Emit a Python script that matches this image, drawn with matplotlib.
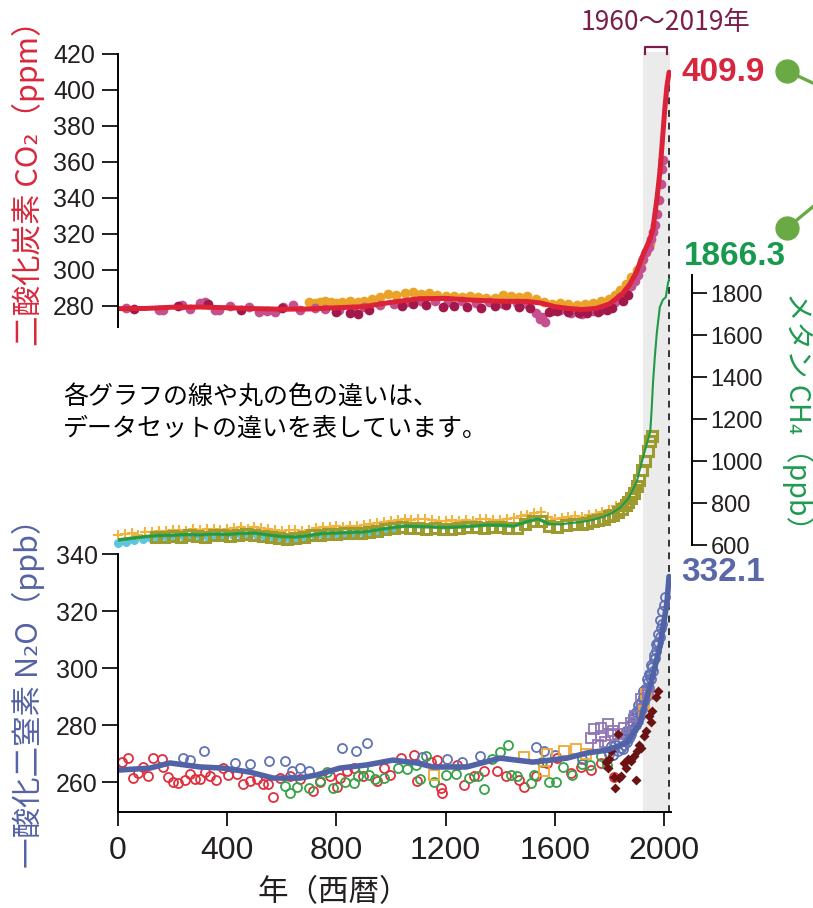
import matplotlib
matplotlib.use('Agg')
import matplotlib.pyplot as plt
from matplotlib.lines import Line2D

# 二酸化炭素 (ppm)
co2_year = [0, 100, 200, 300, 400, 500, 600, 700, 800, 900, 1000, 1100, 1200, 1300, 1400,
            1500, 1550, 1600, 1650, 1700, 1750, 1800, 1850, 1875, 1900, 1912, 1925, 1949,
            1960, 1974, 1985, 1992, 2003, 2011, 2019]
co2_ppm = [278.5, 278.6, 279.3, 279.4, 279.0, 278.5, 278.2, 278.3, 279.0, 279.6, 282.0, 284.0,
           284.2, 283.2, 282.6, 282.5, 281.6, 279.6, 278.6, 278.0, 278.6, 281.0, 287.0, 292.0,
           299.0, 304.0, 309.0, 317.0, 323.0, 339.0, 354.0, 367.0, 389.0, 402.0, 409.9]

co2_a_year = [30, 150, 165, 235, 265, 300, 318, 355, 370, 410, 480, 515, 545, 575, 605, 640, 668,
              720, 760, 810, 860, 900, 960, 1010, 1060, 1110, 1160, 1210, 1260, 1310, 1360, 1410,
              1460, 1500, 1530, 1545, 1555, 1565, 1590, 1620, 1660, 1700, 1740, 1770, 1800, 1820,
              1840, 1860, 1880, 1895, 1905, 1915, 1925, 1935, 1945, 1952, 1960, 1968, 1975, 1982,
              1988, 1994, 1998]
co2_a_ppm = [279.0, 277.5, 278.0, 280.5, 278.5, 281.5, 282.0, 278.0, 277.5, 280.0, 279.5, 276.8,
             277.0, 276.5, 279.5, 280.5, 278.0, 279.0, 278.5, 277.5, 278.5, 279.5, 280.5, 281.0,
             282.0, 282.5, 283.0, 282.0, 282.5, 281.5, 282.0, 281.0, 281.5, 281.0, 276.0, 272.5,
             274.0, 271.0, 277.0, 277.5, 276.0, 275.5, 277.0, 278.0, 280.0, 282.0, 285.0, 287.5,
             291.0, 294.0, 297.0, 301.0, 306.0, 310.0, 313.0, 317.0, 321.0, 325.0, 331.0, 339.0,
             348.0, 356.0, 361.0]

co2_b_year = [60, 220, 330, 450, 600, 800, 850, 880, 920, 1040, 1080, 1130, 1190, 1230, 1280,
              1330, 1380, 1420, 1470, 1510, 1580, 1610, 1650, 1690, 1720, 1760, 1790, 1810, 1850,
              1870]
co2_b_ppm = [278.5, 280.0, 281.0, 278.0, 279.0, 276.5, 276.0, 275.5, 277.5, 280.0, 281.0, 280.5,
             279.5, 280.0, 279.5, 279.0, 280.0, 280.5, 279.5, 279.0, 276.5, 277.0, 276.5, 276.0,
             276.0, 276.5, 278.0, 279.0, 283.0, 286.0]

co2_c_year = [700, 720, 740, 760, 780, 800, 820, 850, 880, 900, 930, 960, 990, 1020, 1050, 1080,
              1110, 1140, 1170, 1200, 1230, 1260, 1290, 1320, 1350, 1380, 1410, 1440, 1470, 1500,
              1530, 1560, 1590, 1620, 1650, 1680, 1710, 1740, 1770, 1800, 1820, 1840, 1860, 1880,
              1900, 1920, 1935, 1950]
co2_c_ppm = [282.0, 281.5, 282.0, 282.5, 282.0, 281.5, 282.0, 282.5, 282.0, 283.0, 284.0, 285.0,
             286.5, 286.0, 287.0, 287.5, 286.5, 287.0, 286.0, 285.5, 285.5, 285.0, 285.5, 285.0,
             284.5, 284.5, 286.0, 285.5, 285.0, 285.5, 284.0, 282.0, 281.0, 281.5, 281.0, 280.5,
             281.0, 281.5, 282.5, 284.0, 286.0, 289.0, 292.0, 296.0, 300.0, 305.0, 310.0, 315.0]

# メタン (ppb)
ch4_year = [0, 50, 100, 150, 200, 250, 300, 350, 400, 450, 500, 550, 600, 650, 700, 750, 800,
            850, 900, 950, 1000, 1050, 1100, 1150, 1200, 1250, 1300, 1350, 1400, 1450, 1500,
            1540, 1580, 1620, 1660, 1700, 1740, 1780, 1810, 1840, 1870, 1900, 1920, 1935, 1950,
            1955, 1960, 1967, 1974, 1985, 1996, 2007, 2015, 2019]
ch4_ppb = [624, 632, 640, 645, 646, 650, 648, 652, 650, 655, 657, 648, 640, 638, 645, 655, 657,
           660, 662, 672, 682, 690, 688, 686, 683, 686, 690, 695, 694, 690, 712, 724, 700, 698,
           705, 710, 720, 735, 752, 778, 822, 900, 1000, 1070, 1140, 1243, 1371, 1500, 1610,
           1733, 1767, 1781, 1848, 1866.3]

ch4_a_year = [0, 25, 50, 75, 100, 125, 150, 175, 200, 225, 250, 275, 300, 325, 350, 375, 400,
              425, 450, 475, 500, 525, 550, 575, 600, 625, 650, 675, 700, 725, 750, 775, 800, 825,
              850, 875, 900, 925, 950, 975, 1000, 1025, 1050, 1075, 1100, 1125, 1150, 1175, 1200,
              1225, 1250, 1275, 1300, 1325, 1350, 1375, 1400, 1425, 1450, 1475, 1500, 1525, 1550,
              1575, 1600, 1625, 1650, 1675, 1700, 1725, 1750, 1775, 1800, 1825, 1850, 1875]
ch4_a_ppb = [648, 652, 655, 650, 660, 663, 668, 665, 670, 672, 668, 676, 671, 674, 678, 672, 676,
             680, 684, 678, 686, 682, 676, 670, 666, 670, 673, 668, 672, 679, 684, 686, 690, 688,
             692, 690, 695, 700, 704, 710, 716, 720, 722, 718, 724, 726, 720, 716, 712, 718, 714,
             720, 716, 722, 726, 720, 718, 722, 730, 738, 745, 752, 758, 734, 726, 730, 734, 738,
             733, 742, 750, 758, 768, 785, 800, 830]

ch4_b_year = [140, 170, 200, 230, 260, 290, 320, 350, 380, 410, 440, 470, 500, 530, 560, 590, 620,
              650, 680, 710, 740, 770, 800, 830, 860, 890, 920, 950, 980, 1010, 1040, 1070, 1100,
              1130, 1160, 1190, 1220, 1250, 1280, 1310, 1340, 1370, 1400, 1430, 1460, 1490, 1520,
              1550, 1580, 1610, 1640, 1670, 1700, 1720, 1740, 1760, 1780, 1800, 1815, 1830, 1845,
              1860, 1870, 1880, 1890, 1900, 1910, 1920, 1930, 1940, 1950, 1955]
ch4_b_ppb = [636, 640, 642, 640, 646, 643, 640, 646, 648, 644, 650, 652, 648, 644, 640, 634, 630,
             632, 640, 648, 650, 652, 654, 656, 655, 658, 662, 666, 676, 680, 684, 680, 682, 678,
             680, 676, 678, 680, 684, 686, 682, 684, 686, 682, 680, 698, 712, 716, 690, 686, 694,
             700, 702, 706, 712, 718, 726, 738, 745, 758, 772, 790, 805, 825, 850, 880, 910, 955,
             1000, 1050, 1095, 1120]

ch4_c_year = [0, 30, 60, 90, 120, 150, 180, 210, 240, 270, 300, 330, 360, 390, 420, 450, 480, 510,
              540, 570, 600, 630, 660, 690, 720, 750, 780, 810, 840, 870, 900, 930, 960, 990, 1020]
ch4_c_ppb = [610, 615, 622, 628, 632, 634, 636, 638, 640, 642, 640, 638, 642, 644, 646, 648, 650,
             646, 640, 632, 628, 626, 630, 636, 644, 646, 648, 650, 650, 652, 654, 656, 662, 668,
             674]

# 一酸化二窒素 (ppb)
n2o_year = [0, 117, 190, 300, 385, 483, 568, 667, 728, 813, 911, 1007, 1095, 1154, 1205, 1277,
            1400, 1520, 1645, 1718, 1791, 1864, 1912, 1949, 1985, 2011, 2019]
n2o_ppb = [264.2, 264.9, 266.7, 265.3, 264.9, 263.5, 261.4, 261.4, 262.5, 264.9, 266.0, 267.7,
           266.7, 265.3, 265.3, 265.3, 268.4, 267.0, 268.4, 270.2, 271.2, 273.7, 280.7, 293.3,
           307.4, 322.8, 332.1]

n2o_a_year = [14, 37, 55, 73, 92, 110, 128, 161, 165, 184, 202, 220, 245, 264, 282, 300, 319, 337,
              359, 385, 404, 437, 459, 483, 510, 532, 551, 568, 595, 631, 667, 716, 741, 778, 804,
              815, 840, 863, 899, 950, 973, 998, 1035, 1083, 1095, 1145, 1170, 1182, 1188, 1243,
              1267, 1304, 1341, 1390, 1420, 1469, 1487, 1530, 1573, 1610, 1659, 1695, 1732, 1769,
              1817]
n2o_a_ppb = [267.1, 268.4, 261.4, 263.2, 265.3, 262.1, 268.4, 268.1, 265.3, 261.8, 260.0, 259.6,
             260.7, 263.0, 261.0, 261.0, 263.5, 262.0, 260.7, 265.0, 262.5, 262.9, 259.3, 260.3,
             261.0, 259.3, 259.3, 254.7, 261.4, 262.0, 261.0, 256.8, 260.0, 262.0, 258.4, 261.4,
             264.0, 264.9, 262.0, 260.3, 265.0, 262.5, 268.4, 269.6, 260.3, 267.0, 267.7, 258.0,
             256.3, 266.0, 259.0, 262.0, 264.0, 264.0, 262.0, 260.7, 258.4, 262.0, 266.7, 268.5,
             263.2, 265.3, 264.2, 266.7, 261.8]

n2o_b_year = [612, 631, 656, 698, 741, 766, 789, 833, 863, 881, 899, 920, 943, 973, 1024, 1059,
              1090, 1108, 1127, 1157, 1200, 1240, 1285, 1320, 1341, 1372, 1401, 1427, 1440, 1460,
              1512, 1525, 1555, 1579, 1605, 1630, 1665, 1700, 1730, 1769, 1790]
n2o_b_ppb = [258.6, 256.2, 258.3, 258.0, 260.5, 263.5, 258.0, 260.0, 259.5, 262.0, 264.9, 262.5,
             261.0, 261.5, 265.0, 264.5, 266.0, 261.0, 269.0, 260.0, 262.5, 263.0, 261.5, 262.0,
             257.6, 268.0, 270.5, 273.0, 262.5, 262.0, 259.6, 262.5, 267.0, 260.0, 260.0, 265.3,
             262.5, 266.5, 266.0, 269.0, 266.0]

n2o_c_year = [239, 264, 315, 429, 483, 554, 612, 637, 667, 698, 821, 873, 911, 1114, 1205, 1261,
              1328, 1530, 1560, 1600, 1700, 1800, 1808, 1815, 1822, 1830, 1836, 1842, 1848, 1853,
              1858, 1863, 1868, 1872, 1876, 1880, 1884, 1888, 1892, 1896, 1900, 1904, 1908, 1912,
              1916, 1920, 1924, 1928, 1932, 1936, 1940, 1944, 1948, 1952, 1956, 1960, 1964, 1968,
              1972, 1976, 1980, 1984, 1988, 1992, 1850, 1861, 1874, 1886, 1898, 1906, 1914, 1922,
              1930, 1938, 1946, 1954, 1962, 1970, 1978, 1986, 1994, 2000, 2004]
n2o_c_ppb = [268.4, 267.9, 270.9, 266.8, 266.5, 267.3, 267.3, 264.0, 265.0, 264.0, 271.9, 271.0,
             273.7, 268.8, 268.0, 267.0, 269.0, 272.3, 271.0, 269.5, 268.0, 270.0, 272.5, 269.5,
             273.0, 271.0, 274.5, 272.0, 275.5, 273.0, 276.5, 274.0, 278.0, 275.5, 279.5, 277.0,
             281.0, 278.5, 282.5, 280.0, 284.0, 281.5, 285.5, 283.0, 288.0, 285.5, 290.0, 288.0,
             292.5, 290.0, 295.0, 293.0, 297.5, 296.0, 300.5, 299.0, 303.0, 303.5, 306.0, 308.0,
             309.0, 311.0, 314.0, 315.5, 271.5, 278.0, 276.0, 283.5, 284.5, 287.0, 286.0, 292.0,
             291.0, 296.0, 298.0, 301.0, 304.5, 308.5, 312.0, 317.0, 320.0, 322.0, 325.0]

n2o_d_year = [1157, 1487, 1560, 1573, 1634, 1677, 1714, 1928, 1934]
n2o_d_ppb = [262.5, 268.8, 264.0, 270.0, 271.0, 271.5, 270.0, 285.0, 291.0]

n2o_e_year = [1732, 1744, 1760, 1769, 1769, 1785, 1794, 1805, 1812, 1830, 1854, 1879, 1895, 1916,
              1940]
n2o_e_ppb = [275.5, 278.6, 273.0, 279.0, 276.0, 274.0, 280.4, 276.5, 278.0, 277.0, 279.0, 280.7,
             283.0, 289.0, 291.0]

n2o_f_year = [1787, 1795, 1800, 1805, 1817, 1822, 1830, 1835, 1842, 1854, 1862, 1870, 1879, 1891,
              1897, 1903, 1910, 1915, 1928, 1935, 1946, 1952, 1958, 1970, 1977]
n2o_f_ppb = [267.0, 265.0, 268.0, 271.0, 261.8, 257.9, 277.0, 261.4, 262.2, 266.7, 265.0, 268.0,
             267.5, 269.0, 260.7, 271.0, 273.0, 272.0, 276.0, 278.0, 283.0, 281.0, 285.0, 289.7,
             292.0]

x_ticks = [0, 400, 800, 1200, 1600, 2000]
co2_ticks = [280, 300, 320, 340, 360, 380, 400, 420]
ch4_ticks = [600, 800, 1000, 1200, 1400, 1600, 1800]
n2o_ticks = [260, 280, 300, 320, 340]

NARROW = ['Liberation Sans Narrow', 'Liberation Sans', 'DejaVu Sans']
JP = ['Noto Sans CJK JP', 'DejaVu Sans']
MIXED = ['Liberation Sans Narrow', 'Noto Sans CJK JP', 'DejaVu Sans']
INK = '#231f20'
W, H = 813, 908


def rect(left, top, right, bottom):
    # 画素座標 -> figure 座標
    return [left / W, 1 - bottom / H, (right - left) / W, (bottom - top) / H]


def style_ticks(ax, axis, length, size, pad):
    ax.tick_params(axis=axis, direction='out', length=length, width=1.4, color=INK,
                   labelsize=size, labelcolor=INK, pad=pad)
    labels = ax.get_xticklabels() if axis == 'x' else ax.get_yticklabels()
    for t in labels:
        t.set_family(NARROW)


def main():
    fig = plt.figure(figsize=(W / 100, H / 100), dpi=100)
    xlim = (0, 2026)

    # 背景: 1960～2019年の帯と破線
    bg = fig.add_axes(rect(118, 52, 671, 812), zorder=0)
    bg.set_xlim(*xlim)
    bg.set_ylim(0, 1)
    bg.axis('off')
    bg.axvspan(1925, 2022, color='#ebebeb', lw=0)
    bg.axvline(2019, ymin=0, ymax=0.979, color='#333333', lw=1.4, ls=(0, (3.5, 3)))
    bg.plot([1930, 1930, 2013, 2013], [0.997, 1.007, 1.007, 0.997], color='#7a1f4a', lw=1.6,
            clip_on=False)

    # メタン
    ch4 = fig.add_axes(rect(118, 275, 671, 545), zorder=1)
    ch4.patch.set_visible(False)
    ch4.set_xlim(*xlim)
    ch4.set_ylim(600, 1886)
    for s in ['top', 'left', 'bottom']:
        ch4.spines[s].set_visible(False)
    ch4.spines['right'].set_position(('outward', 15))
    ch4.spines['right'].set_linewidth(1.4)
    ch4.yaxis.tick_right()
    ch4.set_xticks([])
    ch4.set_yticks(ch4_ticks)
    style_ticks(ch4, 'y', 10.5, 17, 3)
    ch4.plot(ch4_c_year, ch4_c_ppb, 'o', ms=6.5, color='#5ec5e0', mec='none', clip_on=False)
    ch4.plot(ch4_a_year, ch4_a_ppb, '+', ms=7.5, mew=1.5, color='#f2b43e', clip_on=False)
    ch4.plot(ch4_b_year, ch4_b_ppb, 's', ms=6.5, mfc='none', mew=2.2, color='#9d9b2f',
             clip_on=False)
    early = [i for i, y in enumerate(ch4_year) if y <= 1600]
    ch4.plot([ch4_year[i] for i in early], [ch4_ppb[i] for i in early],
             color='#47a03c', lw=2.6, solid_capstyle='round')
    ch4.plot(ch4_year, ch4_ppb, color='#1f9a48', lw=1.5)
    ch4.annotate('1866.3', xy=(ch4_year[-1], ch4_ppb[-1]), xytext=(11, 16),
                 textcoords='offset points', va='center', ha='left', fontsize=24,
                 fontweight='bold', color='#179a4d', family=NARROW)

    # 二酸化炭素
    co2 = fig.add_axes(rect(118, 54, 671, 327), zorder=2)
    co2.patch.set_visible(False)
    co2.set_xlim(*xlim)
    co2.set_ylim(268.3, 420)
    for s in ['top', 'right', 'bottom']:
        co2.spines[s].set_visible(False)
    co2.spines['left'].set_linewidth(1.4)
    co2.set_xticks([])
    co2.set_yticks(co2_ticks)
    style_ticks(co2, 'y', 11.5, 18, 5)
    co2.plot(co2_c_year, co2_c_ppm, 'o', ms=7, color='#eba228', mec='none')
    co2.plot(co2_a_year, co2_a_ppm, 'o', ms=7, color='#c4508e', mec='none')
    co2.plot(co2_b_year, co2_b_ppm, 'o', ms=7, color='#a3184a', mec='none')
    co2.plot(co2_year, co2_ppm, color='#dc2238', lw=3.6, solid_capstyle='round')
    co2.annotate('409.9', xy=(co2_year[-1], co2_ppm[-1]), xytext=(9, 0),
                 textcoords='offset points', va='center', ha='left', fontsize=24,
                 fontweight='bold', color='#d7263d', family=NARROW)

    # 一酸化二窒素
    n2o = fig.add_axes(rect(118, 554, 671, 812), zorder=3)
    n2o.patch.set_visible(False)
    n2o.set_xlim(*xlim)
    n2o.set_ylim(249.5, 340)
    for s in ['top', 'right']:
        n2o.spines[s].set_visible(False)
    for s in ['left', 'bottom']:
        n2o.spines[s].set_linewidth(1.4)
    n2o.set_xticks(x_ticks)
    n2o.set_yticks(n2o_ticks)
    style_ticks(n2o, 'y', 11.5, 18, 3)
    style_ticks(n2o, 'x', 10, 23, 7)
    ring = dict(ms=6.5, mfc='none', mew=1.3, ls='none')
    n2o.plot(n2o_a_year, n2o_a_ppb, 'o', color='#e0303e', **ring)
    n2o.plot(n2o_b_year, n2o_b_ppb, 'o', color='#36a348', **ring)
    n2o.plot(n2o_c_year, n2o_c_ppb, 'o', color='#6272b4', **ring)
    n2o.plot(n2o_d_year, n2o_d_ppb, 's', color='#f0a830', **ring)
    n2o.plot(n2o_e_year, n2o_e_ppb, 's', color='#9275b5', **ring)
    n2o.plot(n2o_f_year, n2o_f_ppb, 'D', ms=5, color='#6b1212', mec='none', ls='none')
    n2o.plot(n2o_year, n2o_ppb, color='#5262a6', lw=4, solid_capstyle='round')
    n2o.annotate('332.1', xy=(n2o_year[-1], n2o_ppb[-1]), xytext=(9, 3),
                 textcoords='offset points', va='center', ha='left', fontsize=24,
                 fontweight='bold', color='#5a67a8', family=NARROW)

    # 軸ラベル・注記
    fig.text(28 / W, 1 - 176 / H, '二酸化炭素 CO₂（ppm）', rotation=90, ha='center',
             va='center', fontsize=22, color='#d8283c', family=JP)
    fig.text(28 / W, 1 - 686 / H, '一酸化二窒素 N₂O（ppb）', rotation=90, ha='center',
             va='center', fontsize=22, color='#5563a3', family=JP)
    fig.text(798 / W, 1 - 418 / H, 'メタン CH₄（ppb）', rotation=270, ha='center',
             va='center', fontsize=20.5, color='#1f9a50', family=JP)
    fig.text(334 / W, 1 - 893 / H, '年（西暦）', ha='center', va='center', fontsize=22,
             color=INK, family=JP)
    fig.text(63 / W, 1 - 413 / H, '各グラフの線や丸の色の違いは、\nデータセットの違いを表しています。',
             ha='left', va='center', fontsize=18, linespacing=1.25, color='black', family=JP)
    fig.text(665 / W, 1 - 22 / H, '1960～2019年', ha='center', va='center', fontsize=19,
             color='#7a1f4a', family=MIXED)

    # 右端の接続線
    for (x0, y0), (x1, y1) in [((787, 71), (815, 84)), ((787, 228), (815, 205))]:
        fig.add_artist(Line2D([x0 / W, x1 / W], [1 - y0 / H, 1 - y1 / H], color='#6aaa45',
                              lw=2.4, transform=fig.transFigure))
        fig.add_artist(Line2D([x0 / W], [1 - y0 / H], marker='o', ms=16.5, color='#6aaa45',
                              transform=fig.transFigure))

    fig.savefig('out.png', dpi=100)


if __name__ == '__main__':
    main()
